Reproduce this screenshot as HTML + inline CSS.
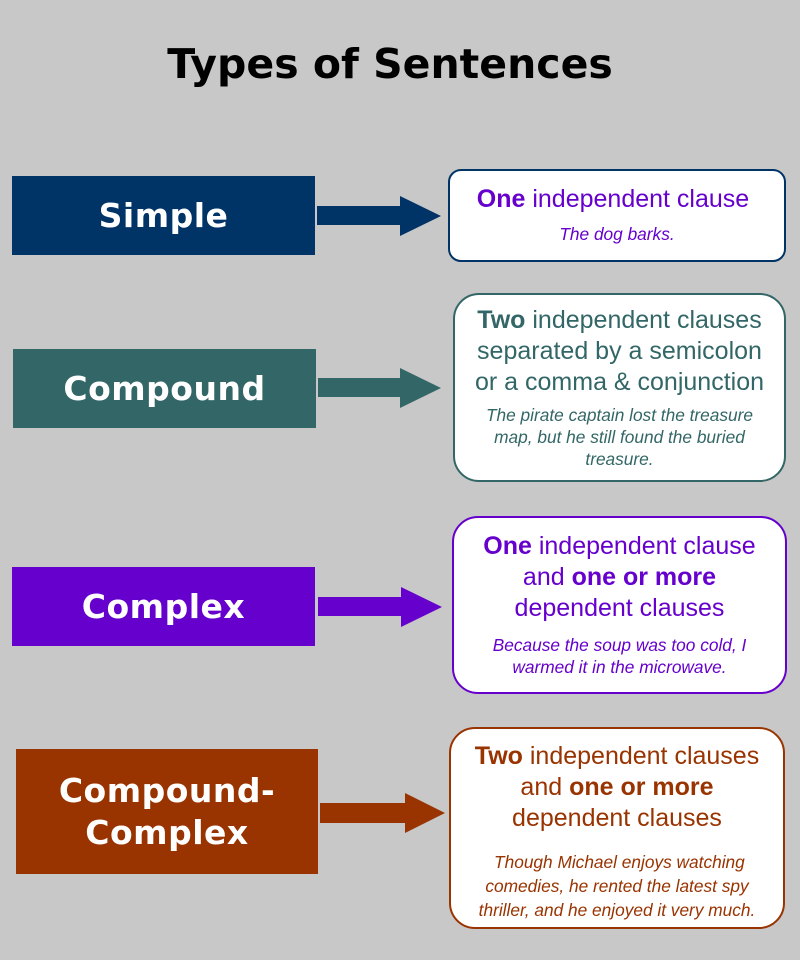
<!DOCTYPE html>
<html><head><meta charset="utf-8"><style>
*{margin:0;padding:0;box-sizing:border-box}
body{width:800px;height:960px;background:#c8c8c8;position:relative;overflow:hidden;font-family:"Liberation Sans",sans-serif}
.a{position:absolute}
.lab{position:absolute;color:#fff;font-weight:bold;font-size:33px;display:flex;align-items:center;justify-content:center;text-align:center;line-height:42px;font-family:"DejaVu Sans","Liberation Sans",sans-serif;letter-spacing:0.5px}
.box{position:absolute;background:#fff;border:2.5px solid;text-align:center}
.main{font-size:25px;line-height:31px;white-space:nowrap}
.ex{font-style:italic;font-size:17.3px;line-height:22px}
.t{position:absolute;left:0;right:0;text-align:center}
</style></head><body>
<div class="a" style="left:0;width:780px;top:40px;text-align:center;font-size:41px;font-weight:bold;font-family:'DejaVu Sans','Liberation Sans',sans-serif;color:#000">Types of Sentences</div>

<div class="lab" style="left:12px;top:176px;width:303px;height:79px;background:#003366">Simple</div>
<div class="lab" style="left:13px;top:349px;width:303px;height:79px;background:#336666">Compound</div>
<div class="lab" style="left:12px;top:567px;width:303px;height:79px;background:#6600cc">Complex</div>
<div class="lab" style="left:16px;top:749px;width:302px;height:125px;background:#993300">Compound-<br>Complex</div>

<svg class="a" style="left:0;top:0" width="800" height="960">
<polygon points="317,206 400,206 400,196 441,216 400,236 400,225 317,225" fill="#003366"/>
<polygon points="318,378 400,378 400,368 441,388 400,408 400,397 318,397" fill="#336666"/>
<polygon points="318,597 401,597 401,587 442,607 401,627 401,616 318,616" fill="#6600cc"/>
<polygon points="320,803 405,803 405,793 445,813 405,833 405,823 320,823" fill="#993300"/>
</svg>

<div class="box" style="left:448px;top:169px;width:338px;height:93px;border-radius:13px;border-color:#003366;color:#6600cc">
<div class="t main" style="top:13px;padding-right:8px"><b>One</b> independent clause</div>
<div class="t ex" style="top:52px">The dog barks.</div>
</div>

<div class="box" style="left:453px;top:293px;width:333px;height:189px;border-radius:26px;border-color:#336666;color:#336666">
<div class="t main" style="top:10px"><b>Two</b> independent clauses<br>separated by a semicolon<br>or a comma &amp; conjunction</div>
<div class="t ex" style="top:109px;padding:0 24px">The pirate captain lost the treasure map, but he still found the buried treasure.</div>
</div>

<div class="box" style="left:452px;top:516px;width:335px;height:178px;border-radius:26px;border-color:#6600cc;color:#6600cc">
<div class="t main" style="top:13px"><b>One</b> independent clause<br>and <b>one or more</b><br>dependent clauses</div>
<div class="t ex" style="top:116px;padding:0 30px">Because the soup was too cold, I warmed it in the microwave.</div>
</div>

<div class="box" style="left:449px;top:727px;width:336px;height:202px;border-radius:26px;border-color:#993300;color:#993300">
<div class="t main" style="top:12px"><b>Two</b> independent clauses<br>and <b>one or more</b><br>dependent clauses</div>
<div class="t ex" style="top:121px;line-height:24px;padding:0 24px">&nbsp;Though Michael enjoys watching comedies, he rented the latest spy thriller, and he enjoyed it very much.</div>
</div>
</body></html>
